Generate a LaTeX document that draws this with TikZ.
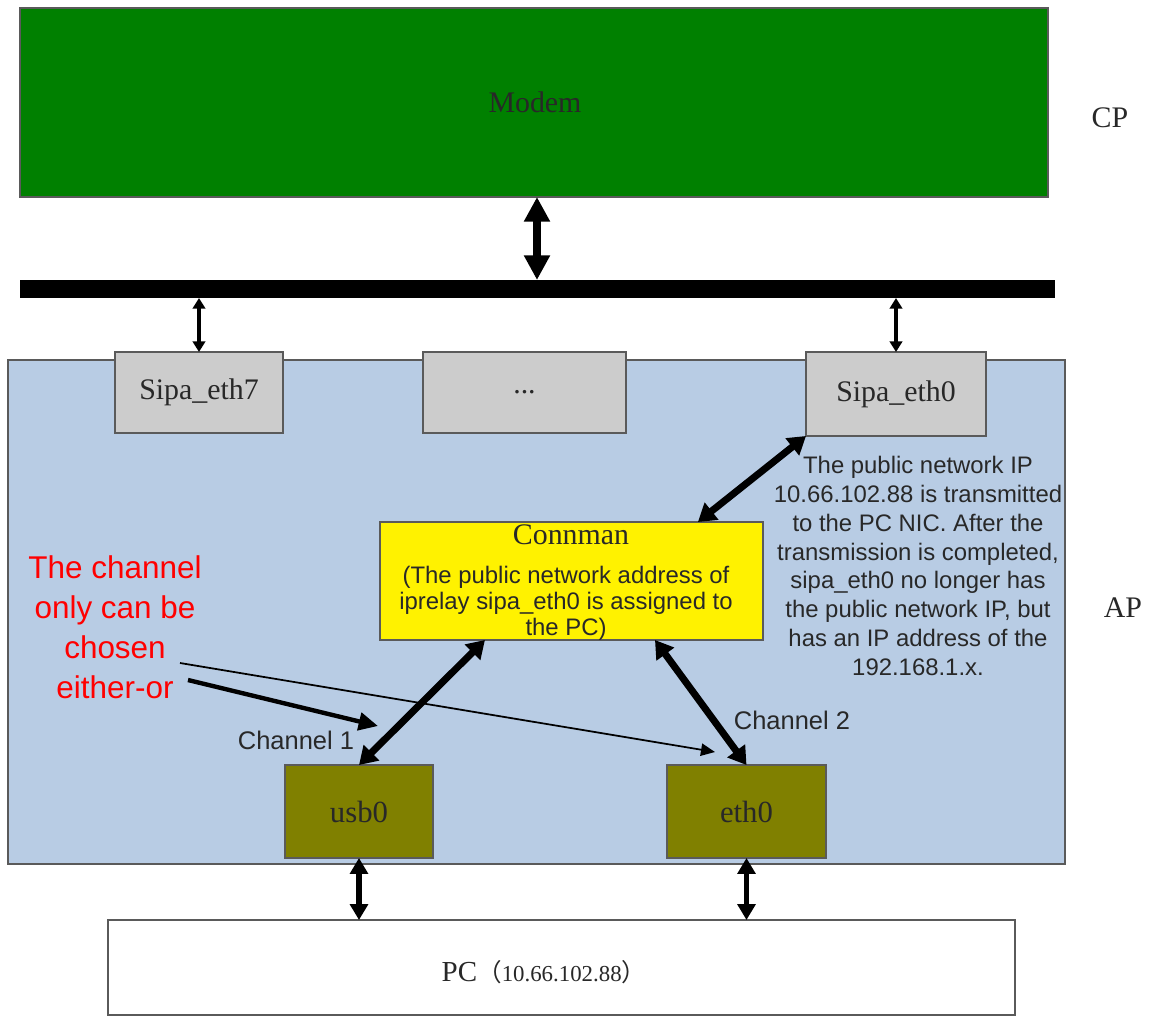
\documentclass[tikz,border=0pt]{standalone}
\usepackage{fontspec}
\setmainfont{Liberation Serif}
\newfontfamily\arial{Liberation Sans}
\newfontfamily\cjk{Noto Sans CJK SC}
\usetikzlibrary{arrows.meta,calc}
\definecolor{modemgreen}{RGB}{0,128,0}
\definecolor{apblue}{RGB}{184,204,228}
\definecolor{boxgray}{RGB}{204,204,204}
\definecolor{olivebox}{RGB}{128,128,0}
\definecolor{edgegray}{RGB}{90,90,90}
\definecolor{txtdark}{RGB}{40,40,40}
\tikzset{
  blk/.style={draw=edgegray, line width=0.8pt, inner sep=0pt, outer sep=0pt},
  serlab/.style={font=\fontsize{17}{19}\selectfont, text=txtdark},
  arrbig/.style={line width=4.5pt, {Triangle[width=14pt,length=14pt]}-{Triangle[width=14pt,length=14pt]}},
  arrmid/.style={line width=4pt, {Triangle[width=12pt,length=10pt]}-{Triangle[width=12pt,length=10pt]}},
  arrsmall/.style={line width=2pt, {Triangle[width=7pt,length=6pt]}-{Triangle[width=7pt,length=6pt]}},
  arrpc/.style={line width=3pt, {Triangle[width=10pt,length=9pt]}-{Triangle[width=10pt,length=9pt]}},
}
\begin{document}
\begin{tikzpicture}[x=0.02cm, y=-0.02cm]
\useasboundingbox (0,0) rectangle (1150,1015);
% AP background
\node[blk, fill=apblue, minimum width=21.14cm, minimum height=10.08cm] (ap) at (536.5,612) {};
% Modem
\node[blk, fill=modemgreen, minimum width=20.56cm, minimum height=3.78cm] (modem) at (534,102.5) {};
\node[serlab] (modemtxt) at (535,102) {Modem};
\node[serlab] (cp) at (1110,118) {CP};
\node[serlab] (aplab) at (1123,608) {AP};
% bus
\node[fill=black, inner sep=0pt, outer sep=0pt, minimum width=20.7cm, minimum height=0.36cm] (bus) at (537.5,289) {};
% sipa boxes
\node[blk, fill=boxgray, minimum width=3.36cm, minimum height=1.62cm, serlab] (s7) at (199,392.5) {Sipa\_eth7};
\node[blk, fill=boxgray, minimum width=4.06cm, minimum height=1.62cm, serlab] (sdots) at (524.5,392.5) {...};
\node[blk, fill=boxgray, minimum width=3.6cm, minimum height=1.68cm, serlab] (s0) at (896,394) {Sipa\_eth0};
% Connman
\node[blk, fill=yellow, minimum width=7.66cm, minimum height=2.36cm] (conn) at (571.5,581) {};
\node[font=\fontsize{17}{19}\selectfont, text=txtdark] (conntitle) at (571,535) {Connman};
\node[font=\arial\fontsize{13.6}{14.8}\selectfont, text=txtdark, align=center] (conntxt) at (566,603)
  {(The public network address of\\ iprelay sipa\_eth0 is assigned to\\ the PC)};
% usb0 / eth0
\node[blk, fill=olivebox, minimum width=2.96cm, minimum height=1.86cm, serlab, font=\fontsize{17.5}{19}\selectfont] (usb) at (359,811.5) {usb0};
\node[blk, fill=olivebox, minimum width=3.18cm, minimum height=1.86cm, serlab, font=\fontsize{17.5}{19}\selectfont] (eth) at (746.5,811.5) {eth0};
% PC
\node[blk, fill=white, minimum width=18.14cm, minimum height=1.9cm] (pc) at (561.5,967.5) {};
\node[text=txtdark] (pctxt) at (544,972) {\fontsize{16.5}{18}\selectfont PC{\cjk\fontsize{14}{16}\selectfont （}\fontsize{13}{15}\selectfont 10.66.102.88{\cjk\fontsize{14}{16}\selectfont ）}};
% annotation
\node[font=\arial\fontsize{13.6}{16.4}\selectfont, text=txtdark, align=center] (note) at (918,566)
  {The public network IP\\ 10.66.102.88 is transmitted\\ to the PC NIC. After the\\ transmission is completed,\\ sipa\_eth0 no longer has\\ the public network IP, but\\ has an IP address of the\\ 192.168.1.x.};
\node[font=\arial\fontsize{17.9}{22.7}\selectfont, text=red, align=center] (redtxt) at (115,627)
  {The channel\\ only can be\\ chosen\\ either-or};
\node[font=\arial\fontsize{14.5}{16}\selectfont, text=txtdark] (ch1) at (296,740) {Channel 1};
\node[font=\arial\fontsize{14.5}{16}\selectfont, text=txtdark] (ch2) at (792,720) {Channel 2};
% arrows
\draw[arrbig] (modem.south -| 537,0) -- (bus.north -| 537,0);
\draw[arrsmall] (bus.south -| s7.north) -- (s7.north);
\draw[arrsmall] (bus.south -| s0.north) -- (s0.north);
\coordinate (connTR) at ($(conn.north west)!0.83!(conn.north east)$);
\coordinate (connBL) at ($(conn.south west)!0.274!(conn.south east)$);
\coordinate (connBR) at ($(conn.south west)!0.718!(conn.south east)$);
\draw[arrmid] (s0.south west) -- (connTR);
\draw[arrmid] (connBL) -- (usb.north);
\draw[arrmid] (connBR) -- (eth.north);
\draw[arrpc] (usb.south) -- (usb.south |- pc.north);
\draw[arrpc] (eth.south) -- (eth.south |- pc.north);
% pointer lines
\coordinate (p1s) at (180,663);
\coordinate (p1e) at (715,752);
\coordinate (p2s) at (188,680);
\coordinate (p2e) at (378,726);
\draw[line width=1pt, -{Triangle[width=7pt,length=8pt]}] (p1s) -- (p1e);
\draw[line width=2.5pt, -{Triangle[width=10pt,length=11pt]}] (p2s) -- (p2e);
\end{tikzpicture}
\end{document}
